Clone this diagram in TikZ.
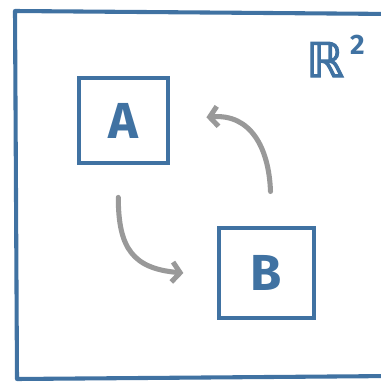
\documentclass[tikz,border=0pt]{standalone}
\usepackage{fontspec}
\setsansfont{Fira Sans}
\newfontfamily\symfont[FakeBold=2.5]{DejaVu Sans}
\usepackage{xcolor}
\usetikzlibrary{arrows.meta}
\definecolor{sketchblue}{RGB}{64,114,162}
\definecolor{sketchgray}{RGB}{153,153,153}

\begin{document}
\begin{tikzpicture}[x=0.025cm,y=0.025cm,
        region/.style={draw=sketchblue, line width=2.4pt, inner sep=0pt, text=sketchblue, font=\sffamily\bfseries\fontsize{36}{36}\selectfont},
        flow/.style={draw=sketchgray, line width=3.6pt, line cap=round, -{Straight Barb[length=0.2cm, width=0.5cm]}}]
        %BATAS
        \useasboundingbox (0,0) rectangle (381,384);
        %BINGKAI
        \draw[sketchblue, line width=2.9pt, line join=round] (395,370) -- (15,373) -- (17,5) -- (395,8);
        %NODE
        \node[region, minimum width=2.22cm, minimum height=2.12cm] (A) at (123.5,263.5) {A};
        \node[region, minimum width=2.37cm, minimum height=2.25cm] (B) at (266.5,111) {B};
        \node[anchor=base west, text=sketchblue, inner sep=0pt] (space) at (306,307)
            {{\symfont\fontsize{34}{34}\selectfont ℝ}\hspace{0.15cm}\raisebox{0.55cm}{\sffamily\bfseries\fontsize{20}{20}\selectfont 2}};
        %PANAH
        \draw[flow] ([shift={(-0.13cm,-0.82cm)}]A.south) to[out=-90, in=175, looseness=1.3] ([xshift=-0.85cm]B.west);
        \draw[flow] ([shift={(0.1cm,0.87cm)}]B.north) to[out=92, in=5, looseness=1.15] ([shift={(0.92cm,0.08cm)}]A.east);
\end{tikzpicture}
\end{document}
